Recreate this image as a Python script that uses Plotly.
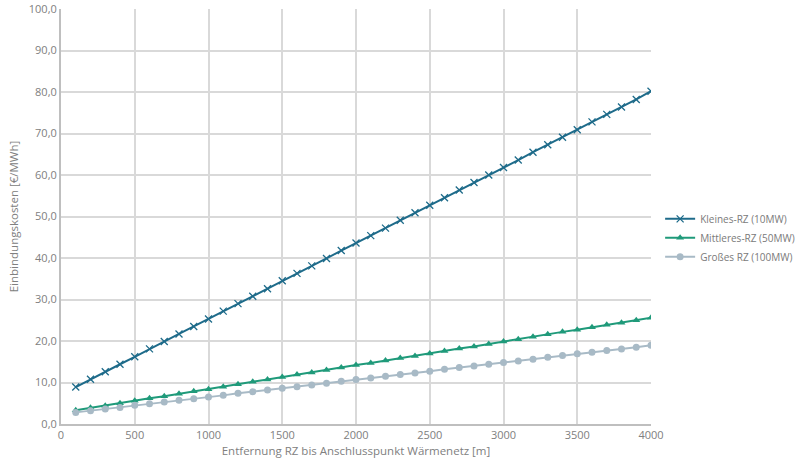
import plotly.graph_objects as go

distance_m = [100, 200, 300, 400, 500, 600, 700, 800, 900, 1000,
              1100, 1200, 1300, 1400, 1500, 1600, 1700, 1800, 1900, 2000,
              2100, 2200, 2300, 2400, 2500, 2600, 2700, 2800, 2900, 3000,
              3100, 3200, 3300, 3400, 3500, 3600, 3700, 3800, 3900, 4000]

kleines_rz = [8.9, 10.8, 12.6, 14.4, 16.2, 18.1, 19.9, 21.7, 23.5, 25.3,
              27.2, 29.0, 30.8, 32.6, 34.5, 36.3, 38.1, 39.9, 41.8, 43.6,
              45.4, 47.2, 49.1, 50.9, 52.7, 54.5, 56.4, 58.2, 60.0, 61.8,
              63.6, 65.5, 67.3, 69.1, 70.9, 72.8, 74.6, 76.4, 78.2, 80.2]

mittleres_rz = [3.3, 3.9, 4.4, 5.0, 5.6, 6.2, 6.7, 7.3, 7.9, 8.4,
                9.0, 9.6, 10.2, 10.7, 11.3, 11.9, 12.4, 13.0, 13.6, 14.2,
                14.7, 15.3, 15.9, 16.4, 17.0, 17.6, 18.2, 18.7, 19.3, 19.9,
                20.4, 21.0, 21.6, 22.2, 22.7, 23.3, 23.9, 24.4, 25.0, 25.6]

grosses_rz = [2.8, 3.2, 3.6, 4.0, 4.5, 4.9, 5.3, 5.7, 6.1, 6.5,
              6.9, 7.4, 7.8, 8.2, 8.6, 9.0, 9.4, 9.8, 10.3, 10.7,
              11.1, 11.5, 11.9, 12.3, 12.7, 13.2, 13.6, 14.0, 14.4, 14.8,
              15.2, 15.6, 16.1, 16.5, 16.9, 17.3, 17.7, 18.1, 18.5, 19.0]

series_names = ["Kleines-RZ (10MW)", "Mittleres-RZ (50MW)", "Großes RZ (100MW)"]
colors = ["#1e6b8a", "#1f9a7a", "#a8bac6"]

fig = go.Figure()
fig.add_trace(go.Scatter(
    x=distance_m, y=kleines_rz, name=series_names[0], mode="lines+markers",
    line=dict(color=colors[0], width=2),
    marker=dict(symbol="x-thin", size=7, line=dict(color=colors[0], width=1.3))))
fig.add_trace(go.Scatter(
    x=distance_m, y=mittleres_rz, name=series_names[1], mode="lines+markers",
    line=dict(color=colors[1], width=2),
    marker=dict(symbol="triangle-up", size=7, color=colors[1])))
fig.add_trace(go.Scatter(
    x=distance_m, y=grosses_rz, name=series_names[2], mode="lines+markers",
    line=dict(color=colors[2], width=2),
    marker=dict(symbol="circle", size=7, color=colors[2])))

fig.update_layout(
    width=807, height=471,
    margin=dict(l=61, r=156, t=9, b=47, autoexpand=False),
    paper_bgcolor="white", plot_bgcolor="white",
    separators=",.",
    font=dict(family="Open Sans, sans-serif", size=11, color="#808080"),
    showlegend=True,
    legend=dict(x=0.818, y=0.495, xref="container", yref="container",
                xanchor="left", yanchor="middle",
                font=dict(size=10, color="#7a7a7a"), tracegroupgap=4,
                itemwidth=30),
)
fig.update_xaxes(
    range=[0, 4000], dtick=500, tick0=0,
    showgrid=True, gridcolor="#d9d9d9", gridwidth=2,
    showline=True, linecolor="#bfbfbf", linewidth=2,
    ticks="", zeroline=False,
    title=dict(text="Entfernung RZ bis Anschlusspunkt Wärmenetz [m]", standoff=6,
               font=dict(size=11.5, color="#808080")),
)
fig.update_yaxes(
    range=[0, 100], dtick=10, tick0=0, tickformat=".1f",
    showgrid=True, gridcolor="#d9d9d9", gridwidth=2,
    showline=True, linecolor="#bfbfbf", linewidth=2,
    ticks="", zeroline=False,
    title=dict(text="Einbindungskosten [€/MWh]", standoff=8,
               font=dict(size=11.5, color="#808080")),
)

fig.write_html("out.html")
